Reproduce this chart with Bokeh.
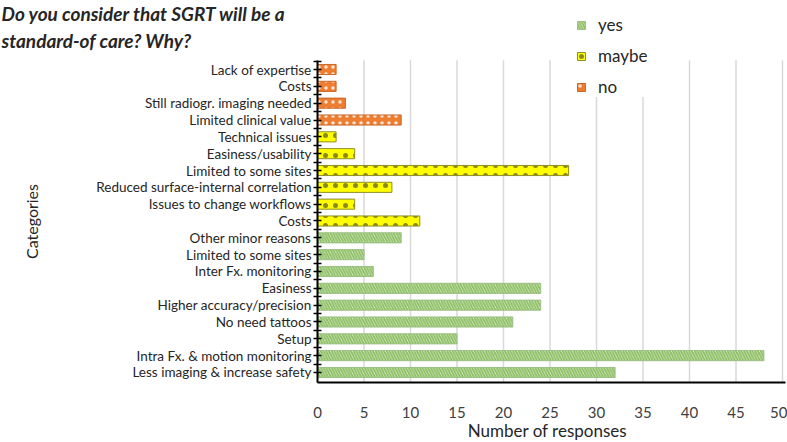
from bokeh.plotting import figure
from bokeh.models import (ColumnDataSource, FixedTicker, Label, Legend,
                          LegendItem, LinearAxis, Range1d)
from bokeh.embed import file_html
from bokeh.resources import INLINE

# categories from top to bottom, with the answer group each one belongs to
categories = [
    "Lack of expertise", "Costs", "Still radiogr. imaging needed",
    "Limited clinical value", "Technical issues", "Easiness/usability",
    "Limited to some sites", "Reduced surface-internal correlation",
    "Issues to change workflows", "Costs", "Other minor reasons",
    "Limited to some sites", "Inter Fx. monitoring", "Easiness",
    "Higher accuracy/precision", "No need tattoos", "Setup",
    "Intra Fx. & motion monitoring", "Less imaging & increase safety",
]
answers = ["no"] * 4 + ["maybe"] * 6 + ["yes"] * 9
responses = [2, 2, 3, 9, 2, 4, 27, 8, 4, 11, 9, 5, 6, 24, 24, 21, 15, 48, 32]
x_ticks = [0, 5, 10, 15, 20, 25, 30, 35, 40, 45, 50]

FONT = "Lato"
TEXT = "#262626"
n = len(categories)
pos = [n - i for i in range(n)]  # first category on top

# the frame covers the whole canvas; both axes are pinned inside it
W, H = 787, 442
AXIS_PX = 317      # where x = 0 sits
PX_PER_UNIT = 9.3
ROW_PX = 16.83
TOP_ROW_PX, BOTTOM_ROW_PX = 69, 372
x_start = -AXIS_PX / PX_PER_UNIT
x_end = (W - AXIS_PX) / PX_PER_UNIT
y_min = 1 - (H - BOTTOM_ROW_PX) / ROW_PX
y_max = n + TOP_ROW_PX / ROW_PX
y_axis_at = 1 - 10 / ROW_PX
y_bar_top = n + 0.55

p = figure(width=W, height=H,
           output_backend="svg", toolbar_location=None,
           x_range=Range1d(x_start, x_end), y_range=Range1d(y_min, y_max),
           x_axis_location=None, y_axis_location=None,
           min_border=0)

# vertical grid lines only over the bar area
p.segment(x0=x_ticks[1:], x1=x_ticks[1:], y0=y_axis_at, y1=y_bar_top,
          line_color="#d9d9d9", line_width=1.5)

styles = {
    "yes": dict(fill_color="#f7fbf3", hatch_pattern="\\", hatch_color="#8dbf63",
                hatch_scale=5.5, hatch_weight=2, line_color="#9cbf84"),
    "maybe": dict(fill_color="#ffff00", hatch_pattern=".", hatch_color="#8a8a1a",
                  hatch_scale=10, hatch_weight=0.6, line_color="#8f8f2a"),
    "no": dict(fill_color="#ed7d31", hatch_pattern=".", hatch_color="#fde6d6",
               hatch_scale=7, hatch_weight=0.8, line_color="#c8672a"),
}

renderers = {}
for group in ["yes", "maybe", "no"]:
    idx = [i for i, a in enumerate(answers) if a == group]
    src = ColumnDataSource(data=dict(y=[pos[i] for i in idx],
                                     right=[responses[i] for i in idx]))
    renderers[group] = p.hbar(y="y", right="right", left=0, height=0.6,
                              source=src, line_width=1, **styles[group])

legend = Legend(items=[LegendItem(label=g, renderers=[renderers[g]])
                       for g in ["yes", "maybe", "no"]],
                location=(576, H - 97), orientation="vertical",
                label_text_font=FONT, label_text_font_size="17px",
                label_text_color=TEXT, glyph_width=10, glyph_height=10,
                label_height=20, spacing=10, padding=6, label_standoff=12,
                border_line_color=None, background_fill_color="white",
                background_fill_alpha=1)
p.add_layout(legend, "center")

title = Label(x=1, y=H - 1, x_units="screen", y_units="screen",
              text="Do you consider that SGRT will be a\nstandard-of care? Why?",
              text_font=FONT, text_font_style="bold italic",
              text_font_size="19px", text_color=TEXT, text_baseline="top",
              text_line_height=1.2)
p.add_layout(title)

# x axis, pinned under the last row
xax = LinearAxis(fixed_location=y_axis_at, bounds=(0, 50.3),
                 ticker=FixedTicker(ticks=x_ticks),
                 major_label_text_font=FONT, major_label_text_font_size="15px",
                 major_label_text_color="#404040", major_label_standoff=19,
                 major_tick_line_color=None, minor_tick_line_color=None,
                 axis_line_color="black", axis_line_width=2)
p.add_layout(xax, "below")

x_title = Label(x=547, y=12, x_units="screen", y_units="screen",
                text="Number of responses", text_align="center",
                text_baseline="alphabetic", text_font=FONT,
                text_font_size="17px", text_color=TEXT)
p.add_layout(x_title)

# y axis with the category names, pinned at x = 0
yax = LinearAxis(fixed_location=0, bounds=(y_axis_at, y_bar_top),
                 ticker=FixedTicker(ticks=pos, minor_ticks=[v + 0.5 for v in pos]),
                 major_label_overrides={v: c for v, c in zip(pos, categories)},
                 axis_label="Categories", axis_label_text_font=FONT,
                 axis_label_text_font_size="16px",
                 axis_label_text_font_style="normal",
                 axis_label_text_color=TEXT, axis_label_standoff=52,
                 major_label_text_font=FONT, major_label_text_font_size="13.5px",
                 major_label_text_color=TEXT, major_label_standoff=2,
                 axis_line_color="black", axis_line_width=2,
                 major_tick_in=4, major_tick_out=4, major_tick_line_width=1.5,
                 minor_tick_in=4, minor_tick_out=4, minor_tick_line_width=1.5,
                 minor_tick_line_color="black")
p.add_layout(yax, "left")

p.xgrid.grid_line_color = None
p.ygrid.grid_line_color = None
p.outline_line_color = None

open("out.html", "w").write(file_html(p, INLINE))
